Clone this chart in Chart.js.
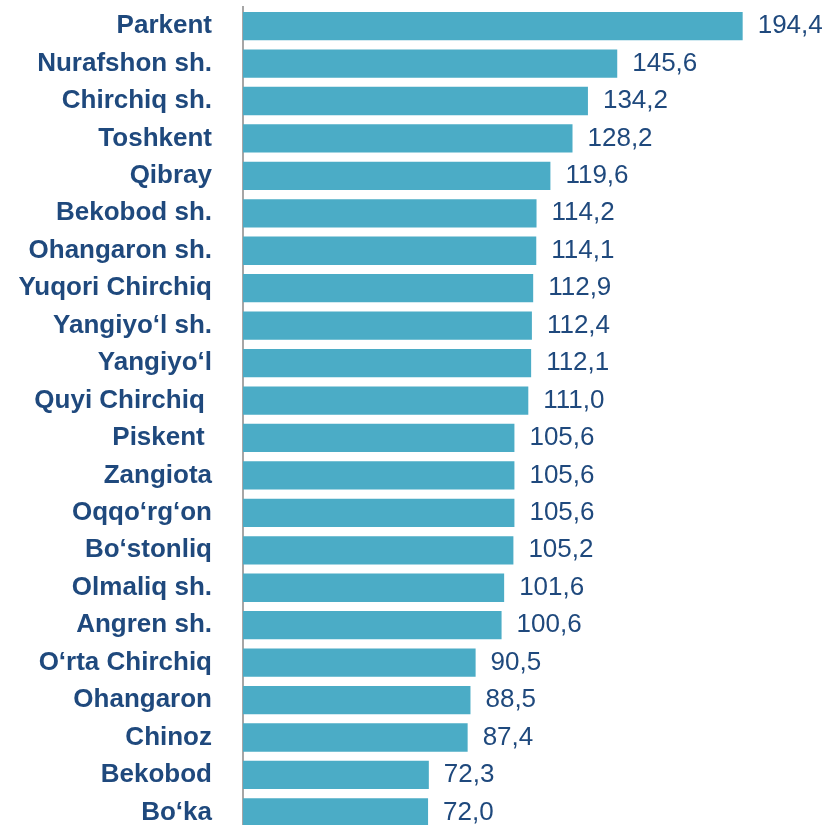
<!DOCTYPE html>
<html>
<head>
<meta charset="utf-8">
<script src="https://cdn.jsdelivr.net/npm/chart.js@4/dist/chart.umd.min.js"></script>
<style>
html,body{margin:0;padding:0;background:#fff;overflow:hidden;}
#wrap{position:relative;width:828px;height:832px;}
</style>
</head>
<body>
<div id="wrap"><canvas id="c"></canvas></div>
<script>
const categories = ["Parkent","Nurafshon sh.","Chirchiq sh.","Toshkent","Qibray","Bekobod sh.","Ohangaron sh.","Yuqori Chirchiq","Yangiyo‘l sh.","Yangiyo‘l","Quyi Chirchiq ","Piskent ","Zangiota","Oqqo‘rg‘on","Bo‘stonliq","Olmaliq sh.","Angren sh.","O‘rta Chirchiq","Ohangaron","Chinoz","Bekobod","Bo‘ka"];
const values = [194.4,145.6,134.2,128.2,119.6,114.2,114.1,112.9,112.4,112.1,111.0,105.6,105.6,105.6,105.2,101.6,100.6,90.5,88.5,87.4,72.3,72.0];

const textColor = '#1F497D';
const valueLabels = {
  id: 'valueLabels',
  afterDatasetsDraw(chart) {
    const ctx = chart.ctx;
    const meta = chart.getDatasetMeta(0);
    ctx.save();
    ctx.font = '26px "Liberation Sans", Arial, sans-serif';
    ctx.fillStyle = textColor;
    ctx.textAlign = 'left';
    ctx.textBaseline = 'middle';
    meta.data.forEach((bar, i) => {
      const txt = values[i].toFixed(1).replace('.', ',');
      ctx.fillText(txt, bar.x + 15, bar.y);
    });
    ctx.restore();
  }
};

new Chart(document.getElementById('c'), {
  type: 'bar',
  data: {
    labels: categories,
    datasets: [{
      data: values,
      backgroundColor: '#4BACC6',
      borderWidth: 0,
      categoryPercentage: 1,
      barPercentage: 0.756
    }]
  },
  options: {
    indexAxis: 'y',
    responsive: true,
    maintainAspectRatio: false,
    animation: false,
    layout: { padding: { top: 7.4, bottom: 0.9, left: 0, right: 0 } },
    plugins: { legend: { display: false }, tooltip: { enabled: false } },
    scales: {
      x: { display: false, min: 0, max: 227.6 },
      y: {
        grid: { display: false, drawTicks: false },
        border: { display: true, color: '#A6A6A6', width: 2 },
        ticks: {
          color: textColor,
          padding: 31,
          font: { family: '"Liberation Sans", Arial, sans-serif', size: 26, weight: 'bold' }
        },
        afterFit(scale) {
          scale.width = 243;
          scale.paddingTop = 0;
          scale.paddingBottom = 0;
        }
      }
    }
  },
  plugins: [valueLabels]
});
</script>
</body>
</html>
